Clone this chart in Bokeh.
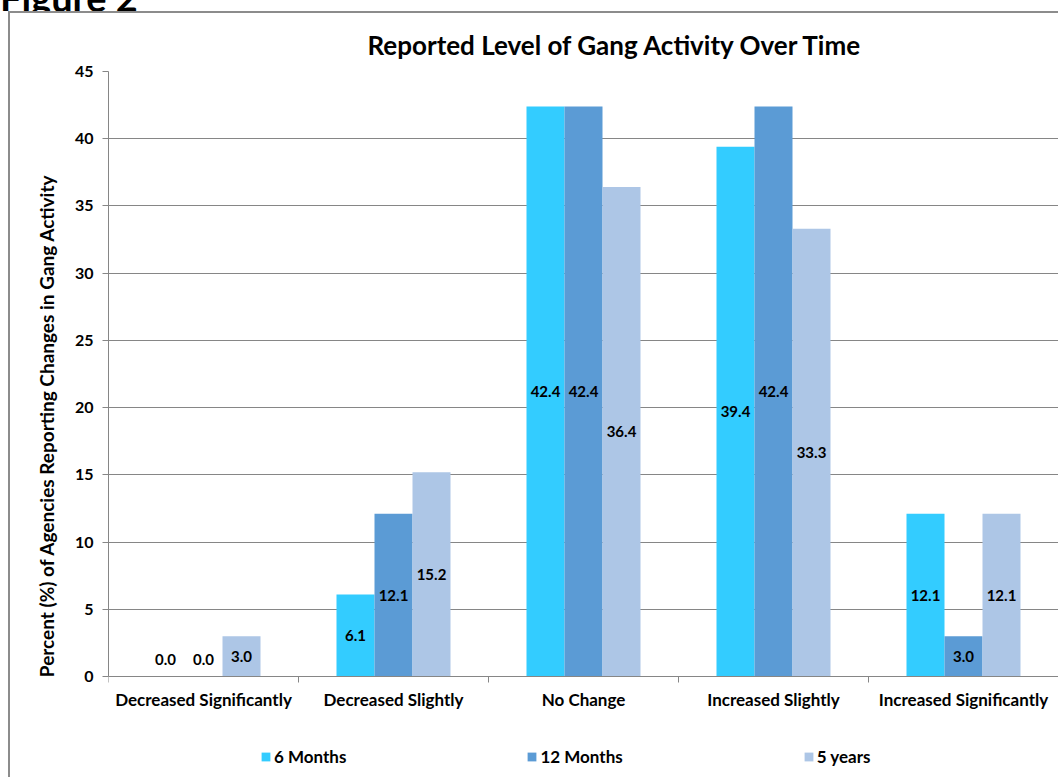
from bokeh.plotting import figure
from bokeh.layouts import column
from bokeh.models import (FactorRange, Range1d, LinearAxis, CategoricalAxis, FixedTicker,
                          Legend, LegendItem, ColumnDataSource, Div)
from bokeh.transform import dodge
from bokeh.core.properties import value
from bokeh.embed import file_html
from bokeh.resources import INLINE

categories = ["Decreased Significantly", "Decreased Slightly", "No Change",
              "Increased Slightly", "Increased Significantly"]
series_names = ["6 Months", "12 Months", "5 years"]
months_6 = [0.0, 6.1, 42.4, 39.4, 12.1]
months_12 = [0.0, 12.1, 42.4, 42.4, 3.0]
years_5 = [3.0, 15.2, 36.4, 33.3, 12.1]
y_ticks = [0, 5, 10, 15, 20, 25, 30, 35, 40, 45]
title_text = "Reported Level of Gang Activity Over Time"
y_label = "Percent (%) of Agencies Reporting Changes in Gang Activity"
figure_caption = "Figure 2"

colors = ["#33CCFF", "#5B9BD5", "#ADC6E6"]
offsets = [-0.2, 0.0, 0.2]
FONT = "Lato"
GRAY = "#868686"

# frame: top at y=45, value 0 sits 103 px above the canvas bottom (605 px per 45 units)
Y_MIN = -103 * 45 / 605.0

caption = Div(text=f'<div style="margin-top:-31px;font-family:Lato;font-weight:bold;'
                   f'font-size:38px;line-height:48px;color:black;white-space:nowrap;">'
                   f'{figure_caption}</div>',
              width=300, height=11, margin=0, styles={"overflow": "hidden"})

p = figure(width=1050, height=766, x_range=FactorRange(*categories),
           y_range=Range1d(Y_MIN, 45), output_backend="svg", toolbar_location=None,
           x_axis_location=None, y_axis_location="left",
           min_border_left=98, min_border_right=2, min_border_top=58, min_border_bottom=0)
p.styles = {"margin-left": "8px",
            "border-left": "2px solid #8c8c8c", "border-top": "2px solid #8c8c8c"}
p.outline_line_color = None
p.background_fill_color = "white"
p.border_fill_color = "white"

p.title.text = title_text
p.title.text_font = FONT
p.title.text_font_size = "26px"
p.title.text_font_style = "bold"
p.title.text_color = "black"
p.title.align = "left"
p.title.offset = 259
p.title.standoff = 22

yax = p.yaxis[0]
yax.ticker = FixedTicker(ticks=y_ticks)
yax.bounds = (0, 45)
yax.axis_label = y_label
yax.axis_label_text_font = FONT
yax.axis_label_text_font_size = "19px"
yax.axis_label_text_font_style = "bold"
yax.axis_label_text_color = "black"
yax.axis_label_standoff = 14
yax.major_label_text_font = FONT
yax.major_label_text_font_size = "16px"
yax.major_label_text_font_style = "bold"
yax.major_label_text_color = "black"
yax.major_label_standoff = 9
yax.axis_line_color = GRAY
yax.major_tick_line_color = GRAY
yax.major_tick_out = 6
yax.major_tick_in = 0
yax.minor_tick_line_color = None

p.xgrid.visible = False
p.ygrid.grid_line_color = GRAY
p.ygrid.grid_line_width = 1

# category axis drawn at value 0, with boundary ticks between categories
bax = LinearAxis(ticker=FixedTicker(ticks=[0, 1, 2, 3, 4, 5]), fixed_location=0,
                 major_label_overrides={i: "" for i in range(6)},
                 major_label_text_font_size="1px", major_label_standoff=0,
                 major_tick_out=0, major_tick_in=6, minor_tick_line_color=None,
                 axis_line_color=GRAY, major_tick_line_color=GRAY)
p.add_layout(bax, "above")
cax = CategoricalAxis(fixed_location=0, major_tick_out=0, major_tick_in=0,
                      axis_line_color=None, major_tick_line_color=None,
                      major_label_standoff=-33,
                      major_label_text_font=FONT, major_label_text_font_size="17px",
                      major_label_text_font_style="bold", major_label_text_color="black")
p.add_layout(cax, "above")

items = []
for name, vals, col, off in zip(series_names, [months_6, months_12, years_5], colors, offsets):
    src = ColumnDataSource(dict(cat=categories, top=vals,
                                label=[f"{v:.1f}" for v in vals],
                                ly=[max(v / 2.0, 1.25) for v in vals]))
    r = p.vbar(x=dodge("cat", off, range=p.x_range), top="top", bottom=0, width=0.2,
               source=src, fill_color=col, line_color=None)
    p.text(x=dodge("cat", off, range=p.x_range), y="ly", text="label", source=src,
           text_align="center", text_baseline="middle", text_font=value(FONT),
           text_font_size="15px", text_font_style="bold", text_color="black")
    items.append(LegendItem(label=name, renderers=[r]))

legend = Legend(items=items, orientation="horizontal", spacing=180, glyph_width=11,
                glyph_height=11, label_standoff=3, label_text_font=FONT,
                label_text_font_size="17px", label_text_font_style="bold",
                label_text_color="black", label_height=20,
                border_line_color=None, background_fill_alpha=0, padding=0, margin=0,
                location=(152, 12))
p.add_layout(legend, "center")

layout = column(caption, p, spacing=0)
open("out.html", "w").write(file_html(layout, INLINE))
